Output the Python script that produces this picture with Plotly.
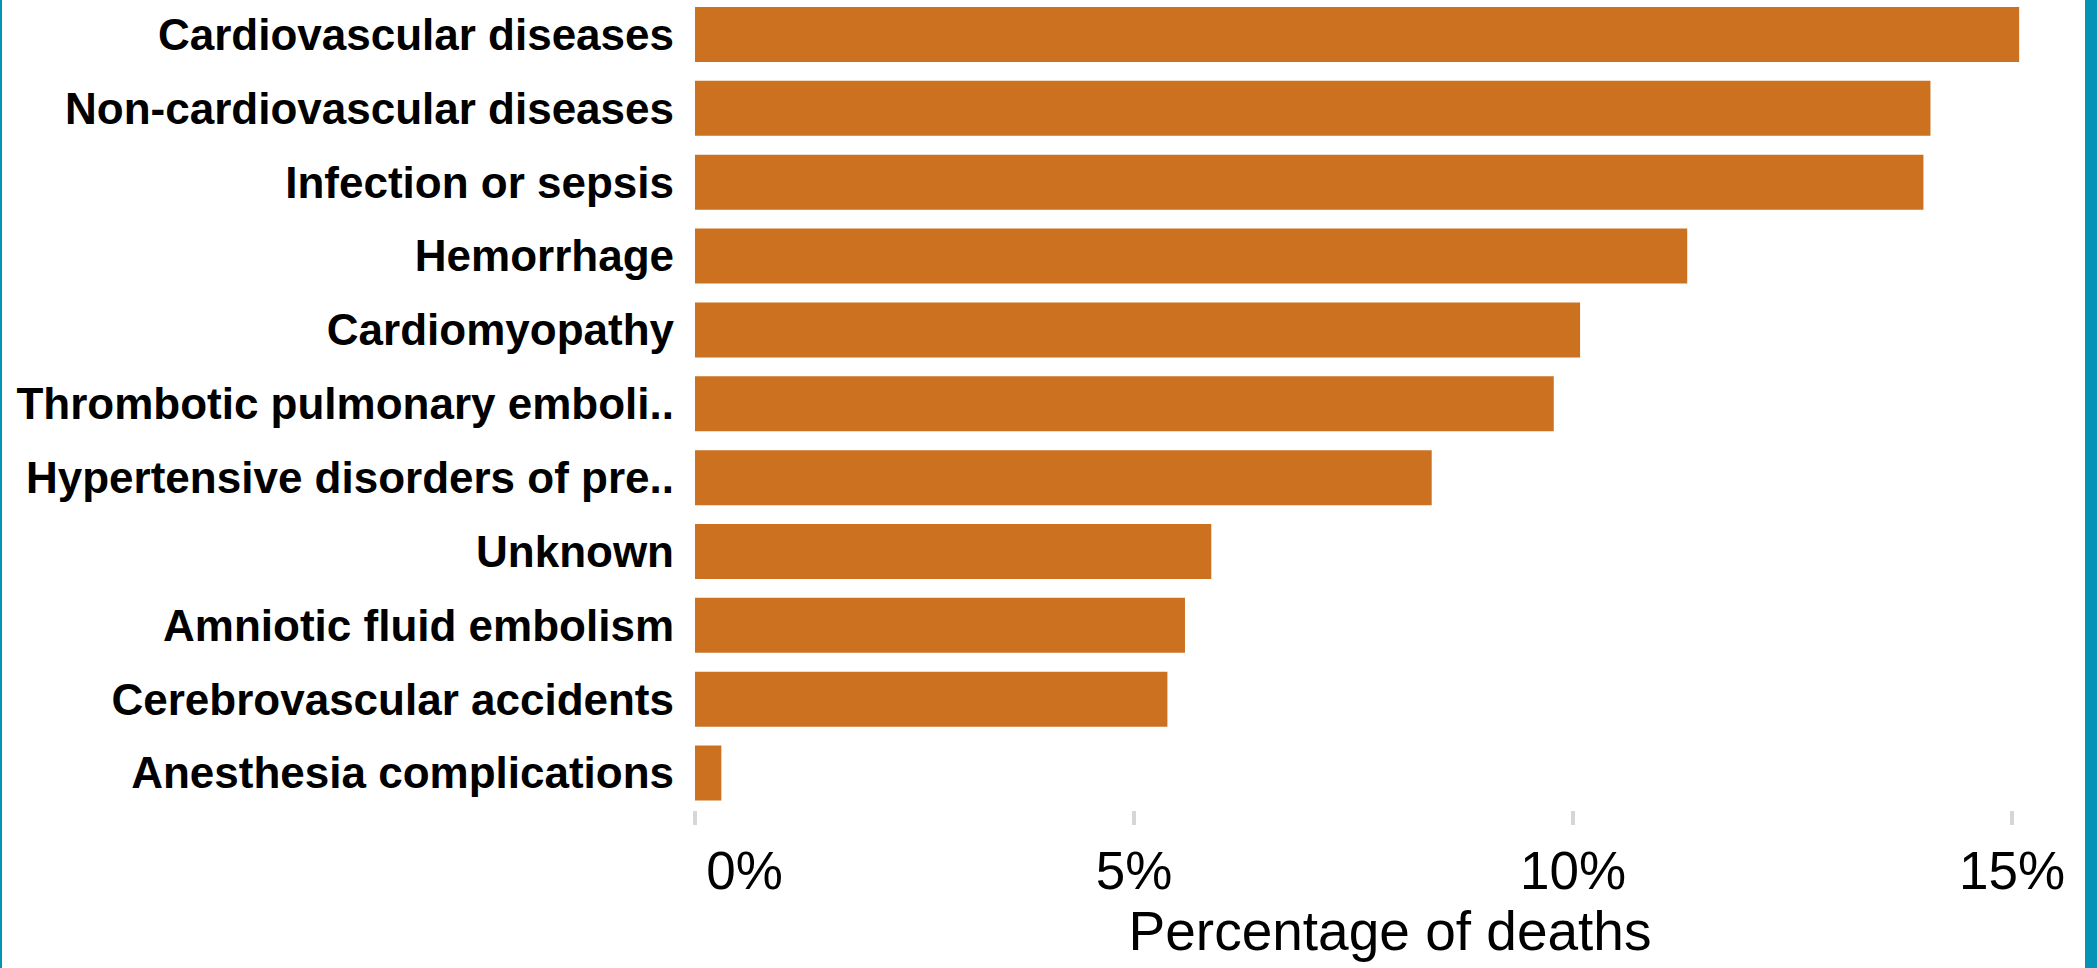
import plotly.graph_objects as go

# Causes of pregnancy-related death, share of all deaths (%)
causes = [
    "Cardiovascular diseases",
    "Non-cardiovascular diseases",
    "Infection or sepsis",
    "Hemorrhage",
    "Cardiomyopathy",
    "Thrombotic pulmonary emboli..",
    "Hypertensive disorders of pre..",
    "Unknown",
    "Amniotic fluid embolism",
    "Cerebrovascular accidents",
    "Anesthesia complications",
]
pct_deaths = [15.08, 14.07, 13.99, 11.30, 10.08, 9.78, 8.39, 5.88, 5.58, 5.38, 0.30]

tick_values = [0, 5, 10, 15]
tick_labels = ["0%", "5%", "10%", "15%"]

W, H = 2097, 968
M_L, M_R, M_T, M_B = 695, 12, 0, 158
plot_w = W - M_L - M_R

bar_color = "#CB7120"
frame_color = "#0492B6"
font_family = "Liberation Sans, Arial, sans-serif"

# the first label sits just inside the pane, so pad it on the left
tick_text = ["\u2007\u2007\u2007\u2009" + tick_labels[0]] + tick_labels[1:]

fig = go.Figure(
    go.Bar(
        x=pct_deaths,
        y=causes,
        orientation="h",
        marker=dict(color=bar_color, line=dict(width=0)),
        hovertemplate="%{y}: %{x:.1f}%<extra></extra>",
    )
)

fig.update_layout(
    width=W,
    height=H,
    margin=dict(l=M_L, r=M_R, t=M_T, b=M_B, pad=0),
    paper_bgcolor="white",
    plot_bgcolor="white",
    bargap=0.255,
    showlegend=False,
    font=dict(family=font_family, color="black"),
    xaxis=dict(
        range=[0, 15.83],
        tickvals=tick_values,
        ticktext=tick_text,
        ticks="outside",
        ticklen=14,
        tickwidth=4,
        tickcolor="#D6D6D6",
        tickfont=dict(size=53, family=font_family, color="black"),
        showgrid=False,
        zeroline=False,
        showline=False,
        title=dict(
            text="Percentage of deaths",
            font=dict(size=55, family=font_family, color="black"),
            standoff=6,
        ),
    ),
    yaxis=dict(
        type="category",
        categoryorder="array",
        categoryarray=causes,
        range=[10.50, -0.467],
        ticks="",
        showgrid=False,
        zeroline=False,
        showline=False,
        ticklabelstandoff=20,
        tickfont=dict(size=44, family=font_family, color="black", weight="bold"),
    ),
)

# Teal frame edges on the left and right of the figure
fig.add_shape(
    type="rect", xref="paper", yref="paper",
    x0=1.0, x1=1.0 + (M_R + 2) / plot_w, y0=-M_B / (H - M_T - M_B), y1=1.05,
    fillcolor=frame_color, line=dict(width=0), layer="above",
)
fig.add_shape(
    type="rect", xref="paper", yref="paper",
    x0=-M_L / plot_w - 0.01, x1=(-M_L + 2) / plot_w, y0=-M_B / (H - M_T - M_B), y1=1.05,
    fillcolor=frame_color, line=dict(width=0), layer="above",
)

fig.write_html("out.html")
